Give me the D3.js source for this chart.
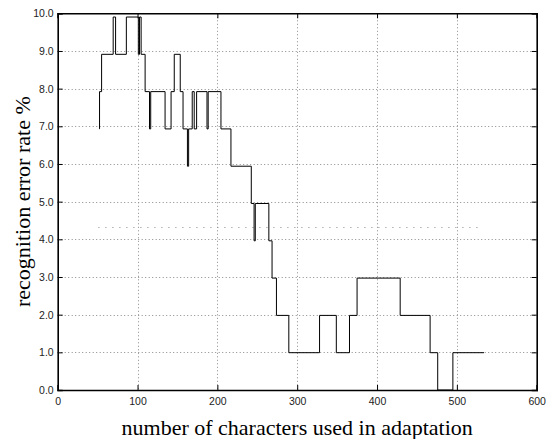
<!DOCTYPE html>
<html>
<head>
<meta charset="utf-8">
<script src="https://cdn.jsdelivr.net/npm/d3@7"></script>
<style>
  body { margin: 0; background: #fff; }
  .tick text { font-family: "Liberation Sans", Arial, sans-serif; font-size: 10.5px; fill: #222; }
</style>
</head>
<body>
<div id="chart"></div>
<script>
const width = 551;
const height = 439;
const margin = {top: 13.3, right: 14.3, bottom: 49, left: 57.7};

// step curve: number of characters where a new level starts, and errors (out of 101 test chars)
const chars = [52, 52.4, 55, 69.5, 72.5, 86, 101, 102.5, 104.5, 109.5,
  115, 116.5, 134.5, 142, 146, 153.5, 157, 162.5, 164, 168.5,
  171, 174, 187, 188.5, 204.5, 217, 242.5, 246, 247.5, 264.5,
  268.5, 274, 289.5, 328, 349, 365.5, 375, 429, 466.5, 476,
  495, 534];
const errors = [7, 8, 9, 10, 9, 10, 9, 10, 9, 8,
  7, 8, 7, 8, 9, 8, 7, 6, 7, 8,
  7, 8, 7, 8, 7, 6, 5, 4, 5, 4,
  3, 2, 1, 2, 1, 2, 3, 2, 1, 0,
  1, 1];
const testSize = 101;

// dotted reference level
const refLevel = 4.32;
const refRange = [51, 533];

const xTicks = [0, 100, 200, 300, 400, 500, 600];
const yTicks = [0, 1, 2, 3, 4, 5, 6, 7, 8, 9, 10];

const svg = d3.select("#chart")
  .append("svg")
  .attr("width", width)
  .attr("height", height);

const x = d3.scaleLinear().domain([0, 600]).range([margin.left, width - margin.right]);
const y = d3.scaleLinear().domain([0, 10]).range([height - margin.bottom, margin.top]);

// grid
const grid = svg.append("g")
  .attr("stroke", "#8a8a8a")
  .attr("stroke-width", 1)
  .attr("stroke-dasharray", "1,2.5");
grid.selectAll(".gx")
  .data(xTicks.slice(1, -1))
  .join("line")
  .attr("x1", d => Math.round(x(d)) + 0.5)
  .attr("x2", d => Math.round(x(d)) + 0.5)
  .attr("y1", y(10))
  .attr("y2", y(0));
grid.selectAll(".gy")
  .data(yTicks.slice(1, -1))
  .join("line")
  .attr("x1", x(0))
  .attr("x2", x(600))
  .attr("y1", d => Math.round(y(d)) + 0.5)
  .attr("y2", d => Math.round(y(d)) + 0.5);

// reference dotted line
svg.append("line")
  .attr("x1", x(refRange[0]))
  .attr("x2", x(refRange[1]))
  .attr("y1", Math.round(y(refLevel)) + 0.5)
  .attr("y2", Math.round(y(refLevel)) + 0.5)
  .attr("stroke", "#8a8a8a")
  .attr("stroke-dasharray", "1,6");

// data
const points = chars.map((c, i) => [c, errors[i] * 100 / testSize]);
const line = d3.line()
  .x(d => x(d[0]))
  .y(d => y(d[1]))
  .curve(d3.curveStepAfter);

svg.append("path")
  .datum(points)
  .attr("d", line)
  .attr("fill", "none")
  .attr("stroke", "#000")
  .attr("stroke-width", 1);

// axes (box with inward ticks)
const fmt = d3.format(".1f");
const gx = svg.append("g")
  .attr("transform", `translate(0,${y(0)})`)
  .call(d3.axisBottom(x).tickValues(xTicks).tickSize(-5).tickPadding(8));
const gxTop = svg.append("g")
  .attr("transform", `translate(0,${y(10)})`)
  .call(d3.axisTop(x).tickValues(xTicks).tickSize(-5).tickFormat(""));
const gy = svg.append("g")
  .attr("transform", `translate(${x(0)},0)`)
  .call(d3.axisLeft(y).tickValues(yTicks).tickSize(-5).tickPadding(4).tickFormat(fmt));
const gyRight = svg.append("g")
  .attr("transform", `translate(${x(600)},0)`)
  .call(d3.axisRight(y).tickValues(yTicks).tickSize(-5).tickFormat(""));

[gx, gxTop, gy, gyRight].forEach(g => {
  g.select(".domain").attr("stroke", "#000").attr("stroke-width", 1.6);
  g.selectAll(".tick line").attr("stroke", "#000");
});

// axis labels
svg.append("text")
  .attr("x", (x(0) + x(600)) / 2)
  .attr("y", 435)
  .attr("text-anchor", "middle")
  .style("font-family", "'Liberation Serif', 'Times New Roman', serif")
  .style("font-size", "22px")
  .text("number of characters used in adaptation");

svg.append("text")
  .attr("transform", `translate(30,${(y(0) + y(10)) / 2}) rotate(-90)`)
  .attr("text-anchor", "middle")
  .style("font-family", "'Liberation Serif', 'Times New Roman', serif")
  .style("font-size", "22px")
  .text("recognition error rate %");
</script>
</body>
</html>
